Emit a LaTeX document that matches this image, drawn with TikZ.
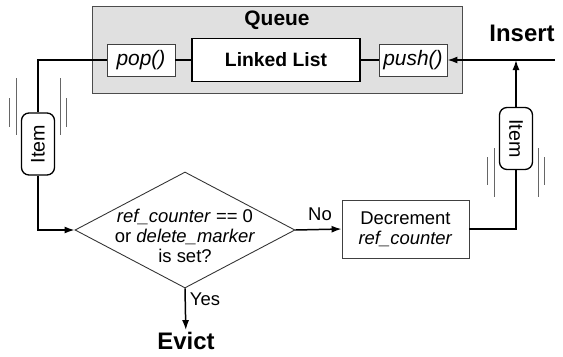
\documentclass[tikz,border=0pt]{standalone}
\usepackage{fontspec}
\setmainfont{Liberation Sans}
\usetikzlibrary{shapes.geometric,arrows.meta}

\begin{document}
\begin{tikzpicture}[every node/.style={font=\fontsize{10.5}{11.2}\selectfont},
  queuebox/.style={draw=black!70, fill=black!12, line width=0.5pt, minimum width=7.4cm, minimum height=1.74cm},
  method/.style={draw=black!75, fill=white, line width=0.5pt, minimum width=1.36cm, minimum height=0.64cm, inner sep=1pt, font=\fontsize{11.9}{13}\selectfont\itshape},
  listbox/.style={draw, fill=white, line width=1.1pt, minimum width=3.36cm, minimum height=0.86cm, font=\fontsize{11}{13}\selectfont\bfseries},
  item/.style={draw, fill=white, rounded corners=0.15cm, line width=0.75pt, minimum width=1.24cm, minimum height=0.66cm, inner sep=1pt, font=\fontsize{11.2}{13}\selectfont},
  decision/.style={diamond, draw=black!80, line width=0.5pt, minimum width=4.4cm, minimum height=2.32cm, inner sep=0pt},
  stepbox/.style={draw=black!75, line width=0.5pt, minimum width=2.54cm, minimum height=1.16cm, align=center},
  title/.style={font=\fontsize{13.6}{15}\selectfont\bfseries, inner sep=1pt},
  flow/.style={line width=0.85pt},
  arrow/.style={flow, -{Latex[length=2mm, width=1.4mm]}},
  motion/.style={draw=black!60, line width=0.5pt}]
  \useasboundingbox (0,0) rectangle (11.26,7.12);
  % queue
  \node [queuebox] (queue) at (5.54,6.13) {};
  \node [font=\fontsize{11.9}{13}\selectfont\bfseries] (queuelabel) at (5.54,6.72) {Queue};
  \node [method] (pop) at (2.82,5.92) {pop()};
  \node [listbox] (list) at (5.52,5.92) {Linked List};
  \node [method] (push) at (8.26,5.92) {push()};
  \draw [flow] (pop) -- (list);
  \draw [flow] (list) -- (push);
  % insert
  \node [title] (insert) at (10.44,6.46) {Insert};
  \coordinate (insertpt) at (11.1,5.92);
  \coordinate (joint) at (10.32,5.92);
  \draw [arrow] (insertpt) -- (push.east);
  % items
  \node [item, rotate=90] (litem) at (0.76,4.24) {Item};
  \node [item, rotate=-90] (ritem) at (10.32,4.35) {Item};
  \foreach \dx/\ya/\yb in {-0.44/1.32/0.18, 0.44/1.32/0.18, -0.57/0.92/0.34, 0.57/0.92/0.34}
    \draw [motion] ([shift={(\dx,\ya)}]litem.center) -- ([shift={(\dx,\yb)}]litem.center);
  \foreach \dx/\ya/\yb in {-0.44/-0.19/-1.17, 0.44/-0.19/-1.17, -0.57/-0.37/-0.93, 0.57/-0.37/-0.93}
    \draw [motion] ([shift={(\dx,\ya)}]ritem.center) -- ([shift={(\dx,\yb)}]ritem.center);
  % decision
  \node [decision, label={[align=center, yshift=-0.12cm]center:{\textit{ref\_counter} == 0\\or \textit{delete\_marker}\\is set?}}] (check) at (3.7,2.52) {};
  \node [stepbox] (dec) at (8.11,2.54) {Decrement\\\textit{ref\_counter}};
  \node [title] (evict) at (3.72,0.3) {Evict};
  \node (yes) at (4.1,1.14) {Yes};
  \node (no) at (6.4,2.84) {No};
  \draw [flow] (pop.west) -| (litem);
  \draw [arrow] (litem) |- (check.west);
  \draw [arrow] (check.east) -- (dec.west);
  \draw [arrow] (check.south) -- (evict);
  \draw [flow] (dec.east) -| (ritem);
  \draw [arrow] (ritem) -- (joint);
\end{tikzpicture}
\end{document}
